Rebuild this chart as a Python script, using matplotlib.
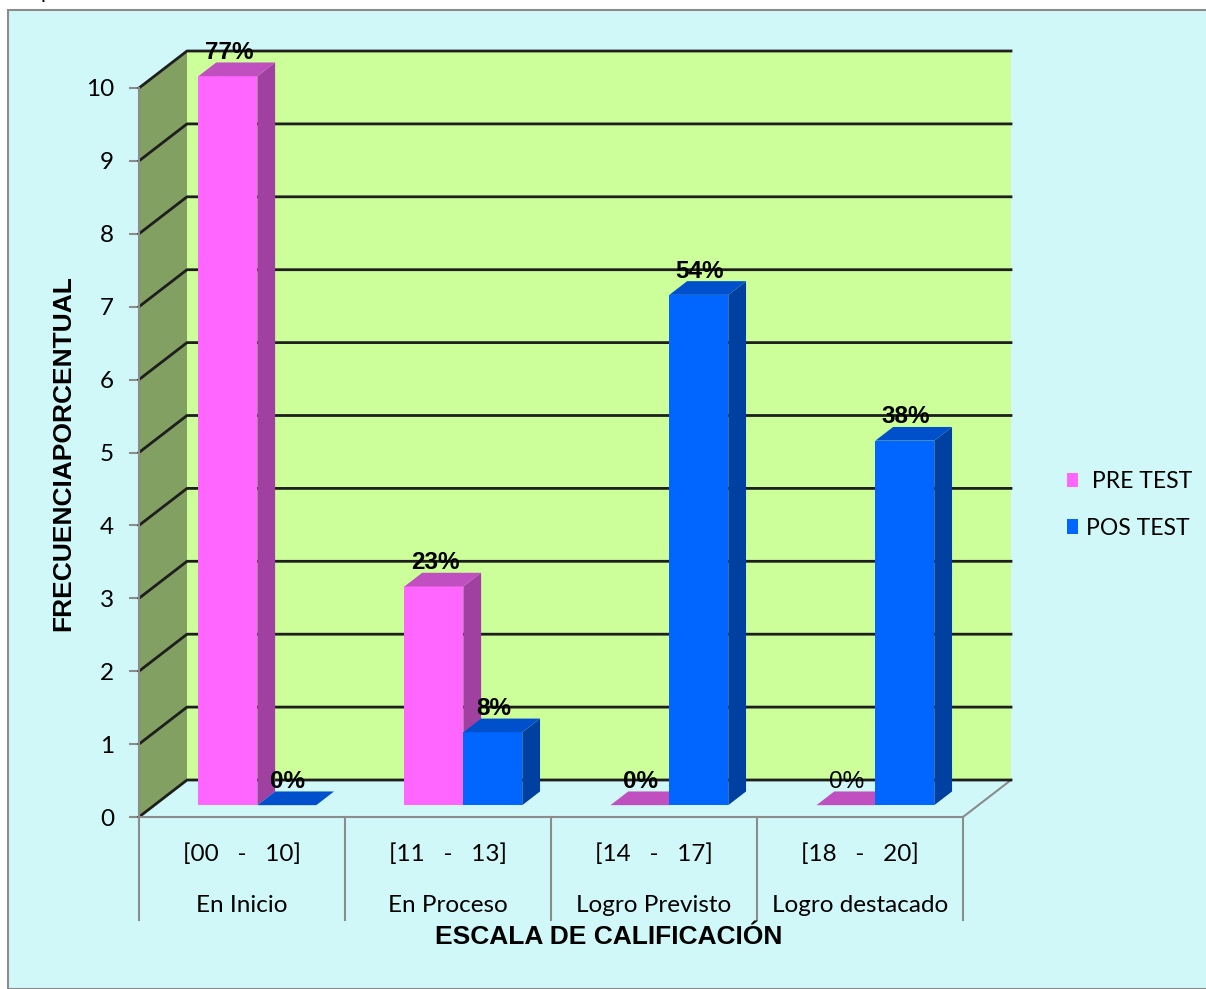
import matplotlib.pyplot as plt
from matplotlib.patches import Polygon, Rectangle, Patch
from matplotlib.transforms import blended_transform_factory

rangos = ["[00   -   10]", "[11   -   13]", "[14   -   17]", "[18   -   20]"]
niveles = ["En Inicio", "En Proceso", "Logro Previsto", "Logro destacado"]
pre_test = [10, 3, 0, 0]
pos_test = [0, 1, 7, 5]
pre_pct = ["77%", "23%", "0%", "0%"]
pos_pct = ["0%", "8%", "54%", "38%"]
yticks = list(range(0, 11))

W, H = 1206, 989
fig = plt.figure(figsize=(W / 100, H / 100), dpi=100, facecolor="white")

# light cyan chart area with grey frame
fig.patches.append(Rectangle((8 / W, 0), 1.2, (H - 10) / H, transform=fig.transFigure,
                             facecolor="#D0F8F8", edgecolor="#8C8C8C", lw=1.5, zorder=-10))
fig.text(40 / W, 1 + 2 / H, "p", fontsize=15, family="Lato", va="baseline")

ax = fig.add_axes([139 / W, (H - 817) / H, 824 / W, 729 / H])
ax.set_xlim(0, 4)
ax.set_ylim(0, 10)
ax.patch.set_alpha(0)

# 3D depth of the walls in data units
DX = 48 / 206
DY = 37 / 72.9
f0, f1 = 0.32, 0.69   # bar depth span (fraction of wall depth)
bw = 0.286

def off(x, y, f):
    return (x + f * DX, y + f * DY)

# back wall, side wall, floor
ax.add_patch(Polygon([(DX, DY), (4 + DX, DY), (4 + DX, 10 + DY), (DX, 10 + DY)],
                     facecolor="#CCFF99", edgecolor="none", clip_on=False, zorder=1))
ax.add_patch(Polygon([(0, 0), (DX, DY), (DX, 10 + DY), (0, 10)],
                     facecolor="#82A062", edgecolor="none", clip_on=False, zorder=1))
ax.add_patch(Polygon([(0, 0), (4, 0), (4 + DX, DY), (DX, DY)],
                     facecolor="#D0F8F8", edgecolor="none", clip_on=False, zorder=1))
ax.plot([4, 4 + DX], [0, DY], color="#8C8C8C", lw=1.5, clip_on=False, zorder=2)

for k in yticks:
    ax.plot([0, DX, 4 + DX], [k, k + DY, k + DY], color="#1E1E1E", lw=2,
            clip_on=False, zorder=2)

colores = {
    "pre": ("#FF66FF", "#C050C0", "#A040A0"),
    "pos": ("#0066FF", "#0050CC", "#0040A0"),
}

def barra(x0, v, cols, z):
    front, top, side = cols
    if v > 0:
        ax.add_patch(Polygon([off(x0, 0, f0), off(x0 + bw, 0, f0),
                              off(x0 + bw, v, f0), off(x0, v, f0)],
                             facecolor=front, edgecolor="none", clip_on=False, zorder=z))
        ax.add_patch(Polygon([off(x0 + bw, 0, f0), off(x0 + bw, 0, f1),
                              off(x0 + bw, v, f1), off(x0 + bw, v, f0)],
                             facecolor=side, edgecolor="none", clip_on=False, zorder=z))
    ax.add_patch(Polygon([off(x0, v, f0), off(x0 + bw, v, f0),
                          off(x0 + bw, v, f1), off(x0, v, f1)],
                         facecolor=top, edgecolor="none", clip_on=False, zorder=z))

z = 3
for i in range(4):
    for j, (vals, pcts, key) in enumerate([(pre_test, pre_pct, "pre"), (pos_test, pos_pct, "pos")]):
        x0 = i + 0.5 - bw + j * bw
        v = vals[i]
        barra(x0, v, colores[key], z)
        z += 1
        lx = off(x0 + bw / 2 + 0.005, v, f0)[0]
        ly = off(x0, v, f1)[1]
        peso = "normal" if (i == 3 and key == "pre") else "bold"
        ax.text(lx, ly - 0.02, pcts[i], ha="center", va="bottom", fontsize=17.5,
                family="Liberation Sans", weight=peso, zorder=50, clip_on=False)

# axes
for s in ["top", "right"]:
    ax.spines[s].set_visible(False)
ax.spines["left"].set_color("#8C8C8C")
ax.spines["bottom"].set_color("#8C8C8C")
ax.spines["left"].set_linewidth(1.5)
ax.spines["bottom"].set_linewidth(1.5)
ax.spines["left"].set_zorder(2)
ax.set_xticks([])
ax.set_yticks(yticks)
ax.tick_params(axis="y", length=7, width=1.5, color="#8C8C8C", pad=11)
for t in ax.get_yticklabels():
    t.set_fontfamily("Lato")
    t.set_fontsize(17.5)

# two-level category axis
tr = blended_transform_factory(ax.transData, ax.transAxes)
for i in range(5):
    ax.plot([i, i], [0, -103 / 729], color="#8C8C8C", lw=1.5, transform=tr, clip_on=False)
for i in range(4):
    ax.text(i + 0.5, -37 / 729, rangos[i], transform=tr, ha="center", va="center",
            fontsize=17.5, family="Lato")
    ax.text(i + 0.5, -89 / 729, niveles[i], transform=tr, ha="center", va="center",
            fontsize=17.5, family="Lato")

fig.text(609 / W, 1 - 937 / H, "ESCALA DE CALIFICACIÓN", ha="center", va="center",
         fontsize=19, weight="bold", family="Liberation Sans")
fig.text(63 / W, 1 - 453 / H, "FRECUENCIAPORCENTUAL", ha="center", va="center",
         rotation=90, fontsize=19, weight="bold", family="Liberation Sans")

handles = [Patch(facecolor="#FF66FF", label=" PRE TEST"),
           Patch(facecolor="#0066FF", label="POS TEST")]
leg = fig.legend(handles=handles, loc="center left", bbox_to_anchor=(1046 / W, 1 - 505 / H),
                 frameon=False, handlelength=0.5, handleheight=0.6, handletextpad=0.35,
                 labelspacing=1.12, prop={"family": "Lato", "size": 16.5})

fig.savefig("out.png", dpi=100, facecolor="white")
